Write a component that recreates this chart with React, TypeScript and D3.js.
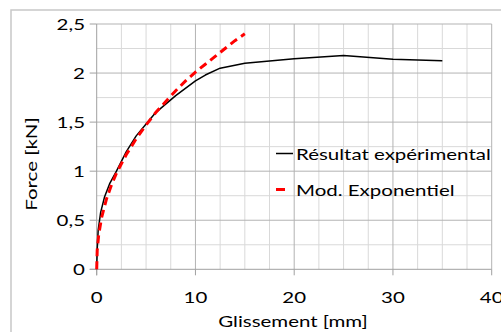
import React from "react";
import * as d3 from "d3";

const expX = [0, 0.05, 0.15, 0.4, 0.8, 1.3, 2, 3, 4, 5, 6, 8, 10, 11, 12.5, 15, 20, 25, 30, 35];
const expY = [0, 0.2, 0.4, 0.58, 0.74, 0.87, 1.0, 1.2, 1.36, 1.48, 1.6, 1.77, 1.92, 1.98, 2.05, 2.1, 2.145, 2.18, 2.14, 2.125];

const modX = [0, 0.05, 0.2, 0.5, 1, 1.5, 2, 3, 4, 5, 6, 7, 8, 9, 10, 11, 12, 13, 14, 15];
const modY = [0, 0.19, 0.35, 0.53, 0.72, 0.86, 0.98, 1.17, 1.33, 1.47, 1.6, 1.71, 1.82, 1.92, 2.01, 2.09, 2.17, 2.25, 2.33, 2.4];

const xTicks = [0, 10, 20, 30, 40];
const yTicks = [0, 0.5, 1, 1.5, 2, 2.5];
const xMinor = [2.5, 5, 7.5, 12.5, 15, 17.5, 22.5, 25, 27.5, 32.5, 35, 37.5];
const yMinor = [0.25, 0.75, 1.25, 1.75, 2.25];

const seriesNames = ["Résultat expérimental", "Mod. Exponentiel"];
const xTitle = "Glissement [mm]";
const yTitle = "Force [kN]";

const W = 501, H = 332;
const L = 96.7, R = 491.7, T = 24, B = 269.3;
const FONT = "Lato, 'Open Sans', sans-serif";
const SX = 1.28;

function Txt(props: { x: number; y: number; anchor?: string; size?: number; rotate?: number; children: React.ReactNode }) {
  const { x, y, anchor = "start", size = 16, rotate = 0, children } = props;
  return (
    <text
      transform={`translate(${x},${y}) rotate(${rotate}) scale(${SX},1)`}
      textAnchor={anchor}
      fontFamily={FONT}
      fontSize={size}
      fill="#000"
    >
      {children}
    </text>
  );
}

export default function App() {
  const x = d3.scaleLinear().domain([0, 40]).range([L, R]);
  const y = d3.scaleLinear().domain([0, 2.5]).range([B, T]);
  const line = d3.line<[number, number]>().x(d => x(d[0])).y(d => y(d[1]));
  const expPts = expX.map((v, i) => [v, expY[i]] as [number, number]);
  const modPts = modX.map((v, i) => [v, modY[i]] as [number, number]);
  const fmt = (v: number) => String(v).replace(".", ",");
  return (
    <svg width={W} height={H} style={{ position: "absolute", left: 0, top: 0, background: "#fff" }}>
      <rect x={11} y={10} width={W} height={H} fill="#fff" stroke="#c8c8c8" strokeWidth={1.5} />
      {xMinor.map(v => (
        <line key={"xm" + v} x1={x(v)} x2={x(v)} y1={T} y2={B} stroke="#d9d9d9" strokeWidth={1} />
      ))}
      {yMinor.map(v => (
        <line key={"ym" + v} x1={L} x2={R} y1={y(v)} y2={y(v)} stroke="#d9d9d9" strokeWidth={1} />
      ))}
      {xTicks.slice(1).map(v => (
        <line key={"xM" + v} x1={x(v)} x2={x(v)} y1={T} y2={B} stroke="#b3b3b3" strokeWidth={1} />
      ))}
      {yTicks.slice(1).map(v => (
        <line key={"yM" + v} x1={L} x2={R} y1={y(v)} y2={y(v)} stroke="#b3b3b3" strokeWidth={1} />
      ))}
      <line x1={L} x2={L} y1={T} y2={B + 6} stroke="#a0a0a0" strokeWidth={1} />
      <line x1={L - 7} x2={R} y1={B} y2={B} stroke="#a0a0a0" strokeWidth={1} />
      {xTicks.map(v => (
        <line key={"xt" + v} x1={x(v)} x2={x(v)} y1={B} y2={B + 6} stroke="#a0a0a0" strokeWidth={1} />
      ))}
      {yTicks.map(v => (
        <line key={"yt" + v} x1={L - 7} x2={L} y1={y(v)} y2={y(v)} stroke="#a0a0a0" strokeWidth={1} />
      ))}
      {xTicks.map(v => (
        <Txt key={"xl" + v} x={x(v)} y={303} anchor="middle">{fmt(v)}</Txt>
      ))}
      {yTicks.map(v => (
        <Txt key={"yl" + v} x={85} y={y(v) + 6} anchor="end">{fmt(v)}</Txt>
      ))}
      <path d={line(expPts) || ""} fill="none" stroke="#000" strokeWidth={1.5} strokeLinejoin="round" />
      <path d={line(modPts) || ""} fill="none" stroke="#ff0000" strokeWidth={3} strokeDasharray="8,5" />
      <line x1={276} x2={293} y1={153.5} y2={153.5} stroke="#000" strokeWidth={1.5} />
      <Txt x={296} y={160}>{seriesNames[0]}</Txt>
      <line x1={276} x2={285} y1={189.5} y2={189.5} stroke="#ff0000" strokeWidth={3} />
      <Txt x={296} y={195.5}>{seriesNames[1]}</Txt>
      <Txt x={293} y={327} anchor="middle">{xTitle}</Txt>
      <Txt x={37} y={164} anchor="middle" rotate={-90}>{yTitle}</Txt>
    </svg>
  );
}
